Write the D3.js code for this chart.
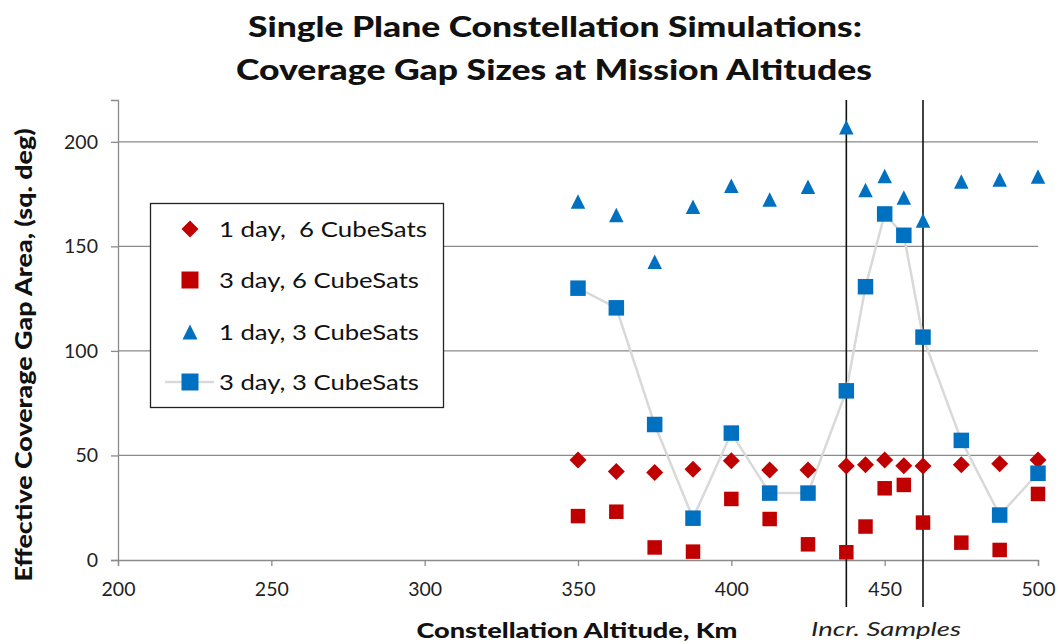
<!DOCTYPE html>
<html>
<head>
<meta charset="utf-8">
<script src="https://cdn.jsdelivr.net/npm/d3@7"></script>
<style>
  html, body { margin: 0; padding: 0; background: #fff; }
  svg { display: block; }
  text { font-family: Lato, "Open Sans", sans-serif; white-space: pre; }
</style>
</head>
<body>
<svg id="chart" width="1058" height="644"></svg>
<script>
// ---- Data ----
const altitudes = [350, 362.5, 375, 387.5, 400, 412.5, 425, 437.5, 443.75, 450, 456.25, 462.5, 475, 487.5, 500];
const day1Sats6 = [47.8, 42.3, 41.8, 43.4, 47.5, 43, 43, 45, 45.5, 47.8, 45.1, 45, 45.5, 46, 47.8];
const day3Sats6 = [21, 23.1, 6, 4, 29.2, 19.6, 7.5, 3.7, 16, 34.3, 35.9, 17.9, 8.3, 4.8, 31.6];
const day1Sats3 = [171.5, 165, 142.7, 169, 179, 172.4, 178.5, 207, 177, 183.6, 173.4, 162.4, 181, 182, 183.4];
const day3Sats3 = [130, 120.6, 64.8, 20, 60.7, 32, 32, 80.9, 130.7, 165.5, 155.3, 106.6, 57.2, 21.5, 41.5];
const xTicks = [200, 250, 300, 350, 400, 450, 500];
const yTicks = [0, 50, 100, 150, 200];
const markerLines = [437.5, 462.5];
const seriesNames = ["1 day,  6 CubeSats", "3 day, 6 CubeSats", "1 day, 3 CubeSats", "3 day, 3 CubeSats"];
const titleLines = ["Single Plane Constellation Simulations:", "Coverage Gap Sizes at Mission Altitudes"];

const RED = "#C00000", BLUE = "#0070C0", GRID = "#8a8a8a", LINE = "#d9d9d9";

const svg = d3.select("#chart");
const x = d3.scaleLinear().domain([200, 500]).range([118, 1038]);
const y = d3.scaleLinear().domain([0, 220]).range([560, 100]);

function diamond(s) { const h = s / 2; return `M0,${-h}L${h},0L0,${h}L${-h},0Z`; }
function square(s) { const h = s / 2; return `M${-h},${-h}H${h}V${h}H${-h}Z`; }
function triangle(s) { const h = s / 2; return `M0,${-h}L${h},${h}L${-h},${h}Z`; }

// gridlines
svg.append("g").selectAll("line").data(yTicks.filter(d => d > 0)).join("line")
  .attr("x1", x(200)).attr("x2", x(500))
  .attr("y1", d => y(d)).attr("y2", d => y(d))
  .attr("stroke", GRID).attr("stroke-width", 1.3);

// axes
const xAxis = d3.axisBottom(x).tickValues(xTicks).tickSize(6).tickPadding(16);
const gx = svg.append("g").attr("transform", `translate(0,${y(0)})`).call(xAxis);
gx.select(".domain").attr("stroke", GRID).attr("stroke-width", 1.3);
gx.selectAll(".tick line").attr("stroke", GRID).attr("stroke-width", 1.3);
gx.selectAll(".tick text").attr("font-size", 19.5).attr("fill", "#222")
  .attr("font-family", "Lato, sans-serif");

const yAxis = d3.axisLeft(y).tickValues(yTicks).tickSize(7).tickPadding(13);
const gy = svg.append("g").attr("transform", `translate(${x(200)},0)`).call(yAxis);
gy.select(".domain").attr("stroke", GRID).attr("stroke-width", 1.3);
gy.selectAll(".tick line").attr("stroke", GRID).attr("stroke-width", 1.3);
gy.selectAll(".tick text").attr("font-size", 19.5).attr("fill", "#222")
  .attr("font-family", "Lato, sans-serif");

// increment sample lines
svg.append("g").selectAll("line").data(markerLines).join("line")
  .attr("x1", d => x(d)).attr("x2", d => x(d))
  .attr("y1", y(220)).attr("y2", 607)
  .attr("stroke", "#111").attr("stroke-width", 1.6);

// connecting line for 3 day 3 sats
svg.append("path")
  .datum(altitudes.map((a, i) => [a, day3Sats3[i]]))
  .attr("d", d3.line().x(d => x(d[0])).y(d => y(d[1])))
  .attr("fill", "none").attr("stroke", LINE).attr("stroke-width", 2.5);

function drawSeries(vals, shape, size, color) {
  svg.append("g").selectAll("path").data(altitudes.map((a, i) => [a, vals[i]])).join("path")
    .attr("transform", d => `translate(${x(d[0])},${y(d[1])})`)
    .attr("d", shape(size)).attr("fill", color);
}
drawSeries(day1Sats6, diamond, 17, RED);
drawSeries(day3Sats6, square, 14.5, RED);
drawSeries(day1Sats3, triangle, 14.5, BLUE);
drawSeries(day3Sats3, square, 15.5, BLUE);

// title
svg.append("text").attr("x", 555).attr("y", 37).attr("text-anchor", "middle")
  .attr("font-size", 28).attr("font-weight", "900").attr("fill", "#111")
  .attr("textLength", 614).attr("lengthAdjust", "spacingAndGlyphs").text(titleLines[0]);
svg.append("text").attr("x", 554).attr("y", 80).attr("text-anchor", "middle")
  .attr("font-size", 28).attr("font-weight", "900").attr("fill", "#111")
  .attr("textLength", 636).attr("lengthAdjust", "spacingAndGlyphs").text(titleLines[1]);

// axis titles
svg.append("text").attr("x", 577).attr("y", 638).attr("text-anchor", "middle")
  .attr("font-size", 21).attr("font-weight", "900").attr("fill", "#111")
  .attr("textLength", 321).attr("lengthAdjust", "spacingAndGlyphs").text("Constellation Altitude, Km");
svg.append("text").attr("x", 886).attr("y", 636).attr("text-anchor", "middle")
  .attr("font-size", 20).attr("font-style", "italic").attr("fill", "#222")
  .attr("textLength", 150).attr("lengthAdjust", "spacingAndGlyphs").text("Incr. Samples");
svg.append("text").attr("transform", "translate(32,355) rotate(-90) scale(1.22,1)").attr("text-anchor", "middle")
  .attr("font-size", 22).attr("font-weight", "900").attr("fill", "#111")
  .text("Effective Coverage Gap Area, (sq. deg)");

// legend
const lg = svg.append("g");
lg.append("rect").attr("x", 150.5).attr("y", 203.5).attr("width", 293).attr("height", 204)
  .attr("fill", "#fff").attr("stroke", "#222").attr("stroke-width", 1.3);
const rows = [229, 280, 332, 382];
const legendWidths = [208, 200, 200, 200];
const legendShapes = [[diamond, 17, RED], [square, 17, RED], [triangle, 15, BLUE], [square, 17, BLUE]];
lg.append("line").attr("x1", 165).attr("x2", 214).attr("y1", rows[3]).attr("y2", rows[3])
  .attr("stroke", LINE).attr("stroke-width", 2.5);
rows.forEach((ry, i) => {
  const [fn, s, c] = legendShapes[i];
  lg.append("path").attr("transform", `translate(190,${ry})`).attr("d", fn(s)).attr("fill", c);
  lg.append("text").attr("x", 219).attr("y", ry + 8).attr("font-size", 21).attr("fill", "#111")
    .attr("xml:space", "preserve")
    .attr("textLength", legendWidths[i]).attr("lengthAdjust", "spacingAndGlyphs")
    .text(seriesNames[i]);
});
</script>
</body>
</html>
